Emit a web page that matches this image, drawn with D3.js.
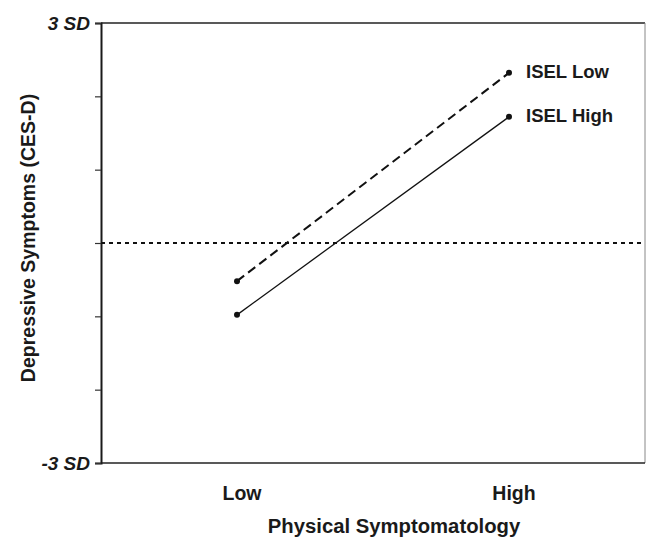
<!DOCTYPE html>
<html>
<head>
<meta charset="utf-8">
<script src="https://d3js.org/d3.v7.min.js"></script>
<style>
  body { margin: 0; background: #fff; }
  svg text { font-family: "Liberation Sans", Arial, sans-serif; font-weight: bold; fill: #1a1a1a; }
</style>
</head>
<body>
<svg id="chart" width="646" height="539"></svg>
<script>
// data
const levels = ["Low", "High"];
const iselLow = [-0.52, 2.32];
const iselHigh = [-0.98, 1.72];
const yTicks = [-3, -2, -1, 0, 1, 2, 3];
const seriesNames = ["ISEL Low", "ISEL High"];

const plotL = 101, plotR = 645, plotT = 23, plotB = 463;
const svg = d3.select("#chart");

const x = d3.scaleLinear().domain([-0.5, 1.5]).range([plotL, plotR]);
const y = d3.scaleLinear().domain([-3, 3]).range([plotB, plotT]);

// frame
svg.append("line").attr("x1", plotL).attr("x2", plotR).attr("y1", plotT).attr("y2", plotT)
  .attr("stroke", "#222").attr("stroke-width", 1.5);
svg.append("line").attr("x1", plotR).attr("x2", plotR).attr("y1", plotT).attr("y2", plotB)
  .attr("stroke", "#888").attr("stroke-width", 1);
svg.append("line").attr("x1", plotL).attr("x2", plotR).attr("y1", plotB).attr("y2", plotB)
  .attr("stroke", "#222").attr("stroke-width", 1.5);

// y axis
const yAxis = d3.axisLeft(y).tickValues(yTicks).tickSize(6)
  .tickFormat(d => d === 3 ? "3 SD" : d === -3 ? "-3 SD" : "");
const ga = svg.append("g").attr("transform", `translate(${plotL},0)`).call(yAxis);
ga.select(".domain").attr("stroke", "#1a1a1a").attr("stroke-width", 2);
ga.selectAll(".tick line").attr("stroke", "#333").attr("stroke-width", 1.2);
ga.selectAll(".tick text").attr("x", -11)
  .style("font-size", "19px").style("font-style", "italic")
  .style("font-family", "Liberation Sans, Arial, sans-serif")
  .style("font-weight", "bold").attr("fill", "#1a1a1a");

// zero reference line
svg.append("line").attr("x1", plotL).attr("x2", plotR).attr("y1", y(0)).attr("y2", y(0))
  .attr("stroke", "#111").attr("stroke-width", 2).attr("stroke-dasharray", "4,4");

const line = d3.line().x((d, i) => x(i)).y(d => y(d));

// ISEL Low (dashed)
svg.append("path").datum(iselLow).attr("d", line).attr("fill", "none")
  .attr("stroke", "#111").attr("stroke-width", 2).attr("stroke-dasharray", "9,5");
// ISEL High (solid)
svg.append("path").datum(iselHigh).attr("d", line).attr("fill", "none")
  .attr("stroke", "#111").attr("stroke-width", 1.3);

[iselLow, iselHigh].forEach((s, k) => {
  svg.selectAll(null).data(s).enter().append("circle")
    .attr("cx", (d, i) => x(i)).attr("cy", d => y(d)).attr("r", 3).attr("fill", "#111");
  svg.append("text").attr("x", x(1) + 17).attr("y", y(s[1]) + 5)
    .attr("font-size", 18.5).text(seriesNames[k]);
});

// x category labels
svg.selectAll(null).data(levels).enter().append("text")
  .attr("x", (d, i) => x(i) + 5).attr("y", 500).attr("text-anchor", "middle")
  .attr("font-size", 19.5).text(d => d);

svg.append("text").attr("x", 394).attr("y", 533).attr("text-anchor", "middle")
  .attr("font-size", 20.3).text("Physical Symptomatology");

svg.append("text").attr("transform", `translate(35,238) rotate(-90)`)
  .attr("text-anchor", "middle").attr("font-size", 19.5).text("Depressive Symptoms (CES-D)");
</script>
</body>
</html>
